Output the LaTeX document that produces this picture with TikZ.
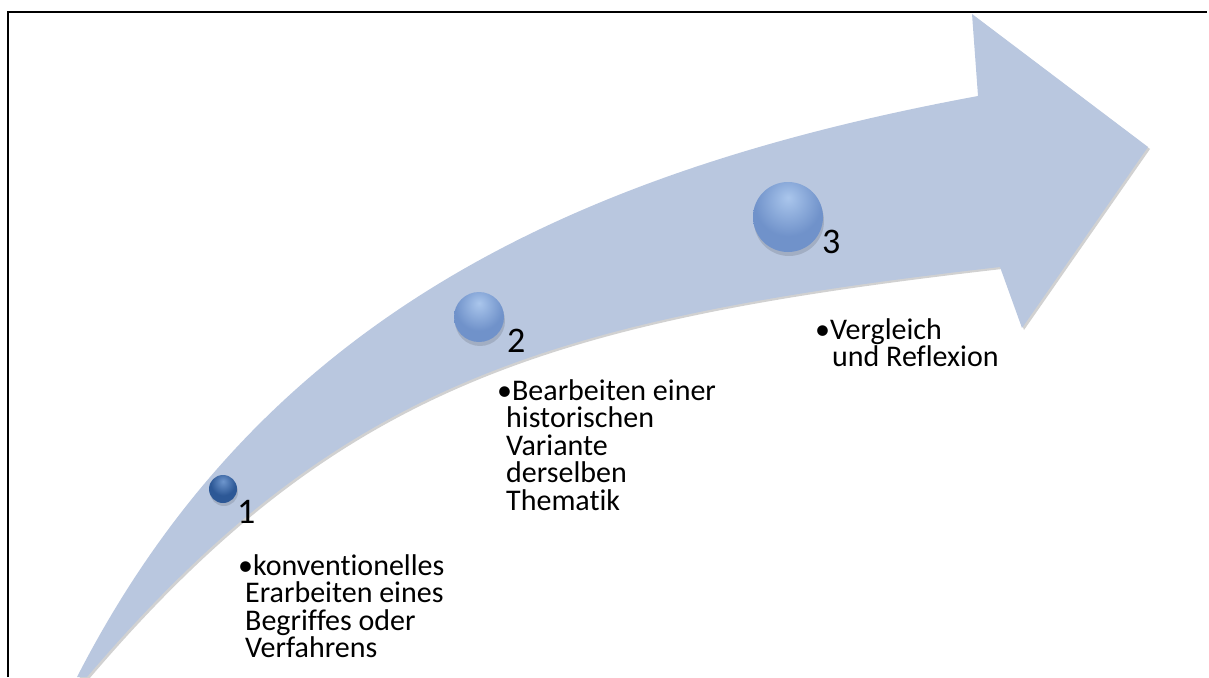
\documentclass[tikz,border=0pt]{standalone}
\usepackage{fontspec}
\setmainfont{Carlito}[Ligatures=CommonOff]
\usetikzlibrary{positioning}

\definecolor{arrowblue}{RGB}{185,199,223}
\definecolor{rimdark}{RGB}{28,58,108}
\definecolor{middark}{RGB}{45,88,150}
\definecolor{hidark}{RGB}{110,150,205}
\definecolor{rimlight}{RGB}{68,100,155}
\definecolor{midlight}{RGB}{112,146,202}
\definecolor{hilight}{RGB}{170,198,236}

\pgfdeclareradialshading{bubbledark}{\pgfpoint{0bp}{14bp}}{%
  color(0bp)=(hidark); color(22bp)=(middark); color(40bp)=(middark);
  color(60bp)=(rimdark); color(90bp)=(rimdark)}
\pgfdeclareradialshading{bubblelight}{\pgfpoint{0bp}{14bp}}{%
  color(0bp)=(hilight); color(24bp)=(midlight); color(42bp)=(midlight);
  color(60bp)=(rimlight); color(90bp)=(rimlight)}

% the bent arrow, in pixel units
\newcommand{\bendarrow}{%
  (77,677) .. controls (257,326) and (561,173) .. (978,96)
  -- (972,14) -- (1148,147) -- (1022,328) -- (1000,267)
  .. controls (545,319) and (337,384) .. (87,677)
  -- cycle}

\tikzset{
  frameline/.style={line width=1.5pt, black},
  sphdark/.style={circle, inner sep=0pt, shading=bubbledark},
  sphlight/.style={circle, inner sep=0pt, shading=bubblelight},
  stepnum/.style={anchor=base west, inner sep=0pt, font=\fontsize{36}{36}\selectfont},
  steptext/.style={anchor=north west, align=left, inner sep=0pt,
    font=\fontsize{30}{27.5}\selectfont}
}

\begin{document}
\begin{tikzpicture}[x=1pt, y=-1pt]
  \useasboundingbox (0,0) rectangle (1209,677);

  % frame
  \draw[frameline] (8,677) -- (8,12) -- (1207,12);

  % arrow with a faint shadow
  \fill[black, opacity=0.18, shift={(2,2)}] \bendarrow;
  \fill[arrowblue] \bendarrow;

  % spheres, with a soft shadow under each
  \fill[black, opacity=0.12] (224,492) circle (14pt);
  \fill[black, opacity=0.12] (480,321) circle (25pt);
  \fill[black, opacity=0.12] (789,221) circle (35pt);
  \node[sphdark, minimum size=28pt] (s1) at (223,489) {};
  \node[sphlight, minimum size=50pt] (s2) at (479,317) {};
  \node[sphlight, minimum size=70pt] (s3) at (788,217) {};

  % step numbers
  \node[stepnum] (n1) at (237,523) {1};
  \node[stepnum] (n2) at (507,352) {2};
  \node[stepnum] (n3) at (822,253) {3};

  % step texts
  \node[steptext] (t1) at (238,554) {\textbullet konventionelles\\
    \hspace*{7pt}Erarbeiten eines\\
    \hspace*{7pt}Begriffes oder\\
    \hspace*{7pt}Verfahrens};
  \node[steptext] (t2) at (497,379) {\textbullet Bearbeiten einer\\
    \hspace*{9pt}historischen\\
    \hspace*{9pt}Variante\\
    \hspace*{9pt}derselben\\
    \hspace*{9pt}Thematik};
  \node[steptext] (t3) at (815,318) {\textbullet Vergleich\\
    \hspace*{17pt}und Reflexion};

\end{tikzpicture}
\end{document}
